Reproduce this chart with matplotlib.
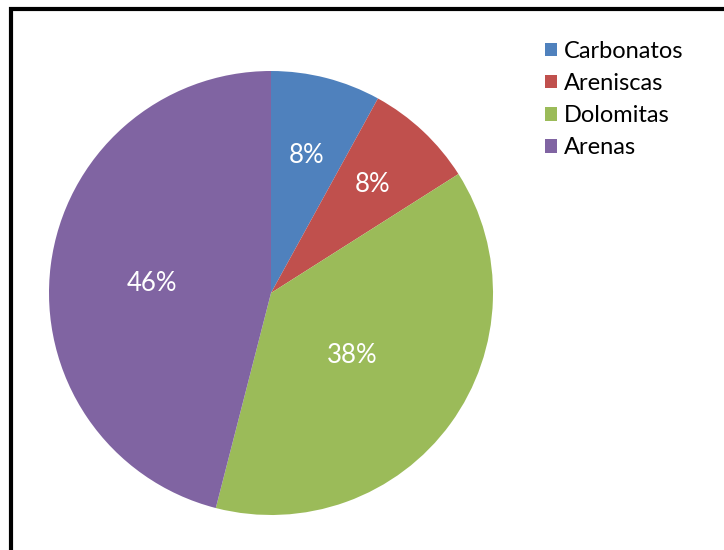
import matplotlib.pyplot as plt
from matplotlib.patches import Rectangle
import numpy as np

plt.rcParams['font.family'] = ['Lato', 'DejaVu Sans']

# Rock types and their share
labels = ['Carbonatos', 'Areniscas', 'Dolomitas', 'Arenas']
shares = [8, 8, 38, 46]
colors = ['#4F81BD', '#C0504D', '#9BBB59', '#8064A2']

fig = plt.figure(figsize=(7.24, 5.5), dpi=100)
ax = fig.add_axes([49 / 724, 35 / 550, 444 / 724, 444 / 550])

wedges, texts, autotexts = ax.pie(
    shares, colors=colors, startangle=90, counterclock=False,
    autopct='%1.0f%%', pctdistance=0.6, radius=1,
    wedgeprops={'linewidth': 0},
    textprops={'color': 'white', 'fontsize': 18.5})

# radial position and angle nudge (deg) of each percentage label
label_r = [0.64, 0.67, 0.46, 0.54]
label_da = [0, 0, -1.5, 2.5]
for w, t, r, da in zip(wedges, autotexts, label_r, label_da):
    ang = np.deg2rad((w.theta1 + w.theta2) / 2 + da)
    t.set_position((r * np.cos(ang), r * np.sin(ang)))

ax.set_xlim(-1, 1)
ax.set_ylim(-1, 1)
ax.set_aspect('equal')

leg = fig.legend(wedges, labels, loc='upper left',
                 bbox_to_anchor=(545 / 724, 1 - 41 / 550),
                 frameon=False, fontsize=17, handlelength=0.5,
                 handleheight=0.5, handletextpad=0.3, labelspacing=0.47,
                 borderpad=0, borderaxespad=0)

# outer chart frame
fig.patches.append(Rectangle((11 / 724, -0.1), 1.2, 1 - 9 / 550 + 0.1,
                             transform=fig.transFigure, fill=False,
                             edgecolor='black', linewidth=3))

plt.savefig('out.png', dpi=100)
